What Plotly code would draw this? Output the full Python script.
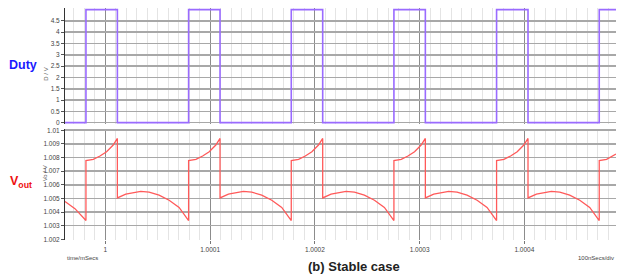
import plotly.graph_objects as go
from plotly.subplots import make_subplots

# time axis: ns after t = 1 ms
x_tick_vals = [0, 100, 200, 300, 400]
x_tick_labels = ["1", "1.0001", "1.0002", "1.0003", "1.0004"]

# Duty (switch drive) transitions
duty_t = [-38.5, -18.5, 11.5, 79.5, 109.5, 177.5, 207.5, 275.5, 305.5, 373.5, 403.5, 471.5, 487.5]
duty_v = [0, 5, 0, 5, 0, 5, 0, 5, 0, 5, 0, 5, 5]

# Vout samples
vout_t = [
    -38.5, -29.0, -18.5,
    -18.5, -11.5, -5.1, 1.2, 7.5, 11.5, 11.5, 19.5, 29.0, 33.8, 41.8, 51.3, 60.9, 70.4, 79.5,
    79.5, 86.5, 92.9, 99.2, 105.5, 109.5, 109.5, 117.5, 127.0, 131.8, 139.8, 149.3, 158.9, 168.4, 177.5,
    177.5, 184.5, 190.9, 197.2, 203.5, 207.5, 207.5, 215.5, 225.0, 229.8, 237.8, 247.3, 256.9, 266.4, 275.5,
    275.5, 282.5, 288.9, 295.2, 301.5, 305.5, 305.5, 313.5, 323.0, 327.8, 335.8, 345.3, 354.9, 364.4, 373.5,
    373.5, 380.5, 386.9, 393.2, 399.5, 403.5, 403.5, 411.5, 421.0, 425.8, 433.8, 443.3, 452.9, 462.4, 471.5,
    471.5, 478.5, 487.5,
]
vout_v = [
    1.00478, 1.00425, 1.00338,
    1.00778, 1.00787, 1.00811, 1.00843, 1.00892, 1.00940, 1.00504, 1.00532, 1.00546, 1.00551, 1.00546, 1.00524, 1.00487, 1.00434, 1.00338,
    1.00778, 1.00787, 1.00811, 1.00843, 1.00892, 1.00940, 1.00504, 1.00532, 1.00546, 1.00551, 1.00546, 1.00524, 1.00487, 1.00434, 1.00338,
    1.00778, 1.00787, 1.00811, 1.00843, 1.00892, 1.00940, 1.00504, 1.00532, 1.00546, 1.00551, 1.00546, 1.00524, 1.00487, 1.00434, 1.00338,
    1.00778, 1.00787, 1.00811, 1.00843, 1.00892, 1.00940, 1.00504, 1.00532, 1.00546, 1.00551, 1.00546, 1.00524, 1.00487, 1.00434, 1.00338,
    1.00778, 1.00787, 1.00811, 1.00843, 1.00892, 1.00940, 1.00504, 1.00532, 1.00546, 1.00551, 1.00546, 1.00524, 1.00487, 1.00434, 1.00338,
    1.00778, 1.00787, 1.00825,
]

duty_ticks = [0, 0.5, 1, 1.5, 2, 2.5, 3, 3.5, 4, 4.5]
vout_ticks = [1.002, 1.003, 1.004, 1.005, 1.006, 1.007, 1.008, 1.009, 1.01]

fig = make_subplots(rows=2, cols=1, shared_xaxes=False, vertical_spacing=0.0)

fig.add_trace(go.Scatter(x=duty_t, y=duty_v, mode="lines", line=dict(color="#9a6bff", width=1.6, shape="hv"),
                         hoverinfo="skip", showlegend=False), row=1, col=1)
fig.add_trace(go.Scatter(x=vout_t, y=vout_v, mode="lines", line=dict(color="#ff5a5a", width=1.3),
                         hoverinfo="skip", showlegend=False), row=2, col=1)

xrange = [-38.5, 487.5]
common_x = dict(range=xrange, tick0=0, dtick=100, showgrid=True, gridcolor="#8c8c8c", gridwidth=1,
                minor=dict(tick0=0, dtick=10, showgrid=True, gridcolor="#e4e4e4", gridwidth=1),
                zeroline=False, showline=False)
fig.update_xaxes(**common_x)
fig.update_xaxes(showticklabels=False, ticks="", row=1, col=1)
fig.update_xaxes(tickvals=x_tick_vals, ticktext=x_tick_labels, ticks="outside", ticklen=3,
                 tickcolor="#777", tickfont=dict(family="Arial", size=6.5, color="#444"), row=2, col=1)

common_y = dict(showgrid=True, gridcolor="#a8a8a8", gridwidth=1.6, zeroline=False, showline=True,
                linecolor="#333", linewidth=1, ticks="outside", ticklen=3, tickcolor="#555",
                tickfont=dict(family="Arial", size=6.5, color="#444"))
fig.update_yaxes(**common_y)
fig.update_yaxes(range=[-0.06, 5.07], tickvals=duty_ticks, ticktext=[f"{v:g}" for v in duty_ticks],
                 domain=[0.5, 1.0], row=1, col=1)
fig.update_yaxes(range=[1.00195, 1.01013], tickvals=vout_ticks, ticktext=[f"{v:g}" for v in vout_ticks],
                 domain=[0.0, 0.4806], row=2, col=1)

fig.add_annotation(text="<b>Duty</b>", xref="paper", yref="paper", x=-0.077, y=0.755, xanchor="center",
                   yanchor="middle", showarrow=False, font=dict(family="Arial", size=12.5, color="#1a1aff"))
fig.add_annotation(text="D / V", xref="paper", yref="paper", x=-0.045, y=0.75, textangle=-90,
                   showarrow=False, font=dict(family="Arial", size=6, color="#555"))
fig.add_annotation(text="<b>V<sub>out</sub></b>", xref="paper", yref="paper", x=-0.08, y=0.25,
                   xanchor="center", yanchor="middle", showarrow=False,
                   font=dict(family="Arial", size=12.5, color="#ee1111"))
fig.add_annotation(text="Vo / V", xref="paper", yref="paper", x=-0.045, y=0.245, textangle=-90,
                   showarrow=False, font=dict(family="Arial", size=6, color="#555"))
fig.add_annotation(text="time/mSecs", xref="paper", yref="paper", x=0.0, y=-0.078, xanchor="left",
                   yanchor="middle", showarrow=False, font=dict(family="Arial", size=6, color="#444"))
fig.add_annotation(text="100nSecs/div", xref="paper", yref="paper", x=1.0, y=-0.078, xanchor="right",
                   yanchor="middle", showarrow=False, font=dict(family="Arial", size=6, color="#444"))
fig.add_annotation(text="<b>(b) Stable case</b>", xref="paper", yref="paper", x=0.524, y=-0.116,
                   xanchor="center", yanchor="middle", showarrow=False,
                   font=dict(family="Arial", size=13, color="#222"))

fig.update_layout(width=623, height=276, margin=dict(l=65, r=7, t=8, b=36),
                  paper_bgcolor="white", plot_bgcolor="white", showlegend=False)

fig.write_html("out.html", config={"displayModeBar": False, "staticPlot": True},
               post_script="document.body.style.margin='0';document.body.style.overflow='hidden';")
